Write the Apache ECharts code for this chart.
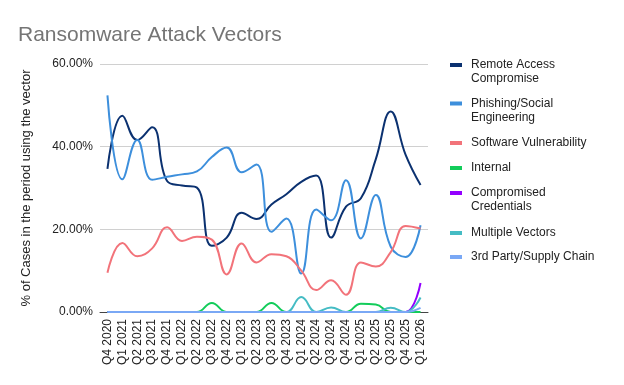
<!DOCTYPE html>
<html>
<head>
<meta charset="utf-8">
<script src="https://cdn.jsdelivr.net/npm/echarts@6/dist/echarts.min.js"></script>
<style>
html,body{margin:0;padding:0;background:#fff;}
#chart{width:624px;height:385px;}
</style>
</head>
<body>
<div id="chart"></div>
<script>
var categories = ["Q4 2020","Q1 2021","Q2 2021","Q3 2021","Q4 2021","Q1 2022","Q2 2022","Q3 2022","Q4 2022","Q1 2023","Q2 2023","Q3 2023","Q4 2023","Q1 2024","Q2 2024","Q3 2024","Q4 2024","Q1 2025","Q2 2025","Q3 2025","Q4 2025","Q1 2026"];
var remoteAccess = [34.6,47.5,41.6,44.7,31.7,30.6,30.1,16,18,24,22.5,26,28.5,31.5,33,18,25.5,27.5,37,48.5,38,30.7];
var phishing = [52.4,32.1,41.6,32,32.7,33.3,34,37.5,39.8,33.8,35.7,19.4,22.6,9.3,24.8,22.2,31.9,17.8,28.3,15.8,13.3,21];
var softwareVuln = [9.5,16.7,13.5,15.4,20.5,17.2,18.2,17.5,9.1,16.6,12,14,13.5,10,5.3,7.7,4.2,12,11,14.5,20.8,20.2];
var internal = [0,0,0,0,0,0,0,2.2,0,0,0,2.2,0,0,0,0,0,2,1.8,0,0,0];
var credentials = [0,0,0,0,0,0,0,0,0,0,0,0,0,0,0,0,0,0,0,0,0,7];
var multipleVectors = [0,0,0,0,0,0,0,0,0,0,0,0,0,3.6,0,1.1,0,0,0,1.0,0,3.5];
var thirdParty = [0,0,0,0,0,0,0,0,0,0,0,0,0,0,0,0,0,0,0,0,0,1];
var seriesNames = ["Remote Access\nCompromise","Phishing/Social\nEngineering","Software Vulnerability","Internal","Compromised\nCredentials","Multiple Vectors","3rd Party/Supply Chain"];
var seriesData = [remoteAccess, phishing, softwareVuln, internal, credentials, multipleVectors, thirdParty];
var colors = ["#0b3170","#3d8fdc","#f2737a","#12cc5a","#9300ff","#45bcc4","#7aa8f5"];
var legendTops = [58, 96.5, 136, 161, 186, 226, 250];
var yTicks = [0, 20, 40, 60];

var chart = echarts.init(document.getElementById('chart'), null, {renderer:'canvas'});
var FONT = '"Liberation Sans", Arial, sans-serif';

var twoLineIcon = 'path://M0,5 L12,5 L12,9 L0,9 Z M0,0 L0.01,0 L0.01,0.01 Z M0,28 L0.01,28 L0.01,28.01 Z';

var legends = seriesNames.map(function(n, i){
  var two = n.indexOf('\n') >= 0;
  return {
    orient: 'vertical',
    left: 450,
    top: legendTops[i],
    padding: 0,
    data: [{name: n, icon: two ? twoLineIcon : 'rect'}],
    itemWidth: 12,
    itemHeight: two ? 28 : 4,
    itemGap: 0,
    selectedMode: false,
    textStyle: {fontFamily: FONT, fontSize: 12, color: '#222', lineHeight: 14, padding: [0,0,0,4]}
  };
});

var series = seriesNames.map(function(n, i){
  return {
    name: n,
    type: 'line',
    data: seriesData[i],
    smooth: 0.45,
    symbol: 'none',
    lineStyle: {width: 2, color: colors[i]},
    itemStyle: {color: colors[i]},
    z: 2 + i
  };
});

chart.setOption({
  animation: false,
  backgroundColor: '#fff',
  color: colors,
  title: {
    text: 'Ransomware Attack Vectors',
    left: 13, top: 20,
    textStyle: {fontFamily: FONT, fontSize: 21, fontWeight: 'normal', color: '#757575'}
  },
  legend: legends,
  grid: {left: 100, right: 196, top: 64, bottom: 73, containLabel: false},
  xAxis: {
    type: 'category',
    data: categories,
    boundaryGap: true,
    axisLine: {show: true, lineStyle: {color: '#444', width: 1}},
    axisTick: {show: false},
    axisLabel: {rotate: 90, interval: 0, margin: 7, fontFamily: FONT, fontSize: 12, color: '#222'}
  },
  yAxis: {
    type: 'value',
    min: yTicks[0], max: yTicks[yTicks.length-1], interval: 20,
    name: '% of Cases in the period using the vector',
    nameLocation: 'middle',
    nameGap: 67,
    nameTextStyle: {fontFamily: FONT, fontSize: 13, color: '#222'},
    axisLine: {show: false},
    axisTick: {show: false},
    splitLine: {lineStyle: {color: '#d0d0d0', width: 1}},
    axisLabel: {margin: 7, fontFamily: FONT, fontSize: 12, color: '#222',
      formatter: function(v){ return v.toFixed(2) + '%'; }}
  },
  series: series
});
</script>
</body>
</html>
